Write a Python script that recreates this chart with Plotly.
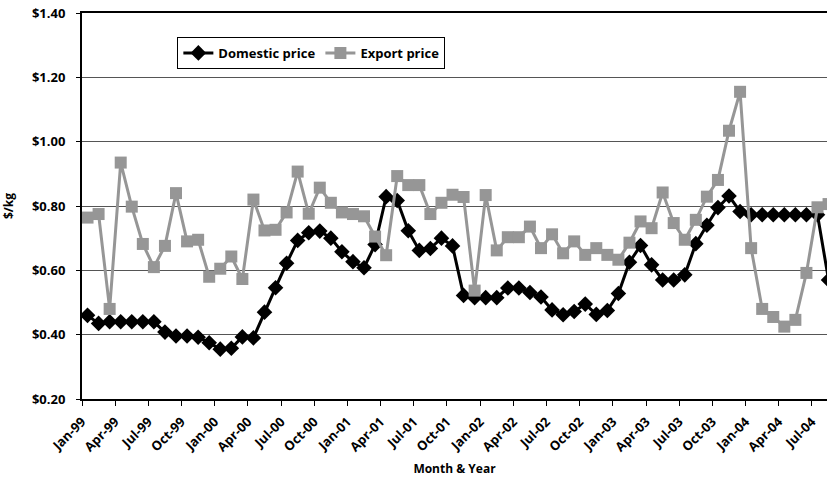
import plotly.graph_objects as go

# Monthly labels Jan-99 .. Aug-04
MONTHS = [
    "Jan-99", "Feb-99", "Mar-99", "Apr-99", "May-99", "Jun-99", "Jul-99", "Aug-99", "Sep-99", "Oct-99", "Nov-99", "Dec-99",
    "Jan-00", "Feb-00", "Mar-00", "Apr-00", "May-00", "Jun-00", "Jul-00", "Aug-00", "Sep-00", "Oct-00", "Nov-00", "Dec-00",
    "Jan-01", "Feb-01", "Mar-01", "Apr-01", "May-01", "Jun-01", "Jul-01", "Aug-01", "Sep-01", "Oct-01", "Nov-01", "Dec-01",
    "Jan-02", "Feb-02", "Mar-02", "Apr-02", "May-02", "Jun-02", "Jul-02", "Aug-02", "Sep-02", "Oct-02", "Nov-02", "Dec-02",
    "Jan-03", "Feb-03", "Mar-03", "Apr-03", "May-03", "Jun-03", "Jul-03", "Aug-03", "Sep-03", "Oct-03", "Nov-03", "Dec-03",
    "Jan-04", "Feb-04", "Mar-04", "Apr-04", "May-04", "Jun-04", "Jul-04", "Aug-04",
]

DOMESTIC = [
    0.460, 0.435, 0.440, 0.440, 0.440, 0.440, 0.440, 0.408, 0.396, 0.396, 0.392, 0.375,
    0.355, 0.358, 0.393, 0.390, 0.470, 0.546, 0.622, 0.693, 0.717, 0.722, 0.700, 0.658,
    0.627, 0.608, 0.680, 0.829, 0.817, 0.723, 0.662, 0.668, 0.700, 0.676, 0.522, 0.515,
    0.515, 0.515, 0.545, 0.545, 0.531, 0.517, 0.477, 0.462, 0.472, 0.495, 0.463, 0.475,
    0.528, 0.625, 0.677, 0.617, 0.570, 0.570, 0.586, 0.683, 0.740, 0.795, 0.831, 0.783,
    0.773, 0.773, 0.773, 0.773, 0.773, 0.773, 0.773, 0.570,
]

EXPORT = [
    0.764, 0.775, 0.480, 0.935, 0.798, 0.682, 0.610, 0.676, 0.840, 0.690, 0.695, 0.580,
    0.605, 0.643, 0.573, 0.820, 0.724, 0.726, 0.780, 0.907, 0.776, 0.857, 0.810, 0.780,
    0.775, 0.768, 0.705, 0.647, 0.893, 0.865, 0.865, 0.775, 0.810, 0.835, 0.828, 0.537,
    0.834, 0.662, 0.703, 0.703, 0.736, 0.669, 0.712, 0.653, 0.690, 0.648, 0.669, 0.648,
    0.633, 0.686, 0.752, 0.731, 0.842, 0.747, 0.695, 0.757, 0.829, 0.881, 1.034, 1.155,
    0.669, 0.480, 0.455, 0.425, 0.446, 0.592, 0.796, 0.806,
]

TICK_LABELS = [
    "Jan-99", "Apr-99", "Jul-99", "Oct-99", "Jan-00", "Apr-00", "Jul-00", "Oct-00",
    "Jan-01", "Apr-01", "Jul-01", "Oct-01", "Jan-02", "Apr-02", "Jul-02", "Oct-02",
    "Jan-03", "Apr-03", "Jul-03", "Oct-03", "Jan-04", "Apr-04", "Jul-04",
]

Y_TICKS = [0.2, 0.4, 0.6, 0.8, 1.0, 1.2, 1.4]
Y_TICK_LABELS = ["$0.20", "$0.40", "$0.60", "$0.80", "$1.00", "$1.20", "$1.40"]

x_idx = list(range(len(MONTHS)))
tick_pos = [MONTHS.index(t) - 0.5 for t in TICK_LABELS]

FONT = "Open Sans"

fig = go.Figure()
fig.add_trace(go.Scatter(
    x=x_idx, y=DOMESTIC, name="Domestic price", mode="lines+markers",
    text=MONTHS, hovertemplate="%{text}: %{y:.2f}<extra></extra>",
    line=dict(color="#000000", width=3),
    marker=dict(symbol="diamond", size=12, color="#000000"),
))
fig.add_trace(go.Scatter(
    x=x_idx, y=EXPORT, name="Export price", mode="lines+markers",
    text=MONTHS, hovertemplate="%{text}: %{y:.2f}<extra></extra>",
    line=dict(color="#969696", width=3),
    marker=dict(symbol="square", size=12, color="#969696"),
))

fig.update_layout(
    width=827, height=478,
    margin=dict(l=82, r=0, t=13, b=79),
    paper_bgcolor="white", plot_bgcolor="white",
    font=dict(family=FONT, size=12, color="#000000"),
    showlegend=True,
    legend=dict(
        orientation="h", x=0.128, y=0.938, xanchor="left", yanchor="top",
        bgcolor="white", bordercolor="#000000", borderwidth=1,
        font=dict(family=FONT, size=13, color="#000000", weight="bold"),
        itemwidth=30, tracegroupgap=0,
    ),
    xaxis=dict(
        range=[-0.5, -0.5 + 745 / 11.06], automargin=False,
        tickmode="array", tickvals=tick_pos, ticktext=TICK_LABELS,
        tickangle=-45, ticks="outside", ticklen=5, tickcolor="#000000",
        tickfont=dict(family=FONT, size=13, color="#000000", weight="bold"),
        ticklabelstandoff=3,
        showline=True, linecolor="#000000", linewidth=2, mirror=True,
        showgrid=False, zeroline=False,
        title=dict(text="Month & Year", standoff=10,
                   font=dict(family=FONT, size=12, color="#000000", weight="bold")),
    ),
    yaxis=dict(
        range=[0.2, 1.4], automargin=False,
        tickmode="array", tickvals=Y_TICKS, ticktext=Y_TICK_LABELS,
        ticks="outside", ticklen=4, tickcolor="#000000",
        tickfont=dict(family=FONT, size=13, color="#000000", weight="bold"),
        ticklabelstandoff=8,
        showline=True, linecolor="#000000", linewidth=2, mirror=False,
        showgrid=True, gridcolor="#555555", gridwidth=1, zeroline=False,
        title=dict(text="$/kg", standoff=18,
                   font=dict(family=FONT, size=12, color="#000000", weight="bold")),
    ),
)

fig.write_html(
    "out.html",
    config={"displayModeBar": False},
    post_script="document.body.style.margin='0';document.body.style.overflow='hidden';",
)
